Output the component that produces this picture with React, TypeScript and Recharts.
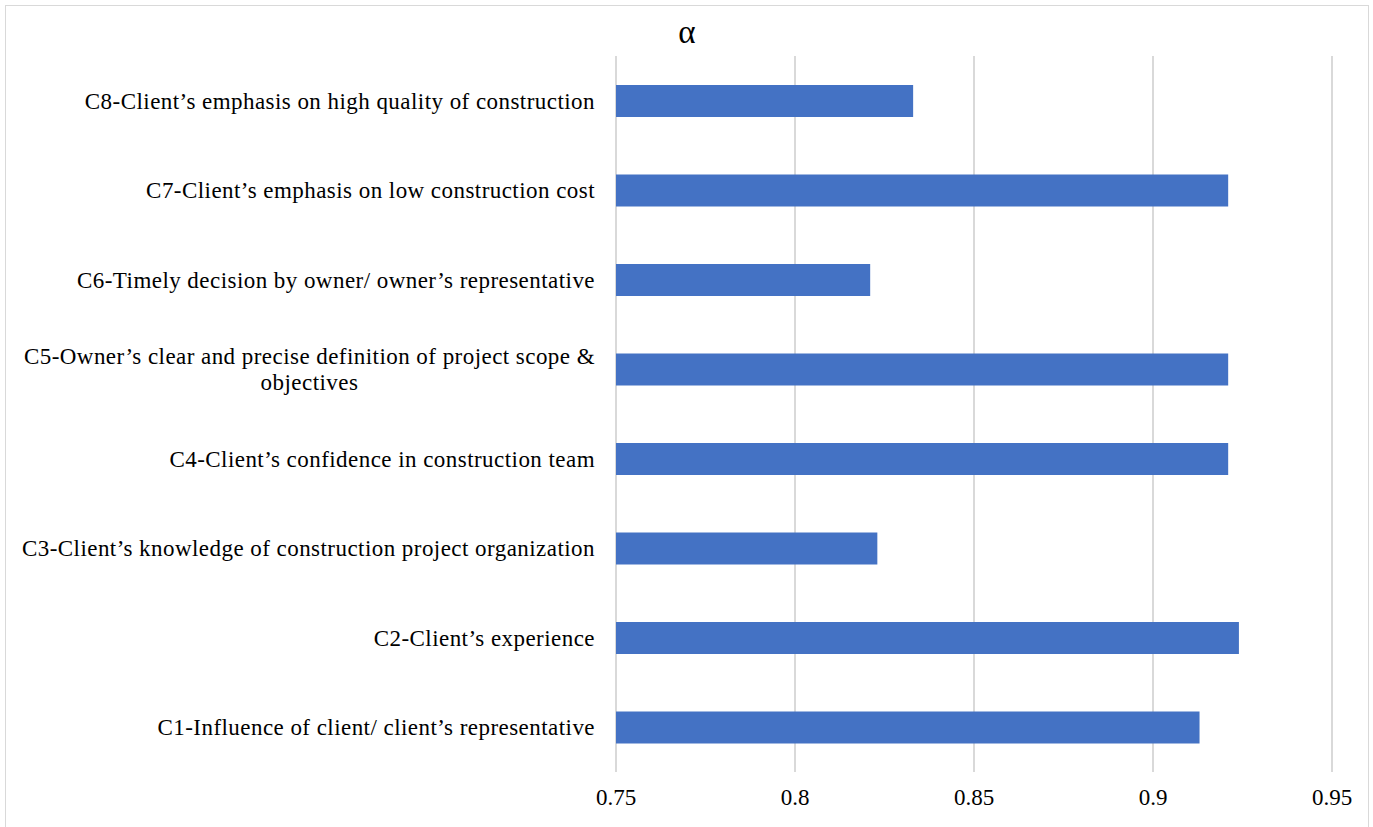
import React from "react";
import { BarChart, Bar, XAxis, YAxis, CartesianGrid } from "recharts";

// Factors listed bottom-to-top (C1 first), line break where the long label wraps
const categories = [
  "C1-Influence of client/ client’s representative",
  "C2-Client’s experience",
  "C3-Client’s knowledge of construction project organization",
  "C4-Client’s confidence in construction team",
  "C5-Owner’s clear and precise definition of project scope &\nobjectives",
  "C6-Timely decision by owner/ owner’s representative",
  "C7-Client’s emphasis on low construction cost",
  "C8-Client’s emphasis on high quality of construction",
];
const alphaValues = [0.913, 0.924, 0.823, 0.921, 0.921, 0.821, 0.921, 0.833];
const xTicks = [0.75, 0.8, 0.85, 0.9, 0.95];

const data = categories.map((name, i) => ({ name, alpha: alphaValues[i] }));

const SERIF = "Liberation Serif";
const LABEL_SIZE = 23;
const LABEL_SPACING = 0.45;
let ctx: CanvasRenderingContext2D | null = null;
function measure(text: string) {
  if (!ctx) ctx = document.createElement("canvas").getContext("2d");
  if (!ctx) return text.length * 10;
  ctx.font = `${LABEL_SIZE}px "${SERIF}"`;
  return ctx.measureText(text).width + text.length * LABEL_SPACING;
}

function CategoryTick(props: any) {
  const { x, y, payload } = props;
  const lines: string[] = String(payload.value).split("\n");
  const boxW = Math.max(...lines.map(measure));
  const cx = x - boxW / 2;
  const lineH = 26;
  const y0 = y - ((lines.length - 1) * lineH) / 2;
  return (
    <g>
      {lines.map((line, i) => (
        <text
          key={i}
          x={lines.length > 1 ? cx : x}
          y={y0 + i * lineH}
          dy="0.35em"
          textAnchor={lines.length > 1 ? "middle" : "end"}
          fontFamily={SERIF}
          fontSize={LABEL_SIZE}
          letterSpacing={LABEL_SPACING}
          fill="#000"
        >
          {line}
        </text>
      ))}
    </g>
  );
}

export default function App() {
  return (
    <div
      style={{
        position: "absolute",
        left: 0,
        top: 0,
        width: 1373,
        height: 827,
        overflow: "hidden",
        background: "#fff",
      }}
    >
      <div
        style={{
          position: "absolute",
          left: 5,
          top: 5,
          width: 1362,
          height: 840,
          border: "1.5px solid #d9d9d9",
        }}
      />
      <div
        style={{
          position: "absolute",
          left: 587,
          width: 200,
          top: 12,
          textAlign: "center",
          fontFamily: `"${SERIF}"`,
          fontSize: 33,
          lineHeight: "40px",
          color: "#000",
        }}
      >
        α
      </div>
      <div style={{ position: "absolute", left: 0, top: 0 }}>
        <BarChart
          width={1373}
          height={827}
          data={data}
          layout="vertical"
          barSize={32}
          margin={{ top: 56, right: 41, bottom: 25, left: 20 }}
        >
          <CartesianGrid horizontal={false} stroke="#d9d9d9" strokeWidth={2} />
          <XAxis
            type="number"
            domain={[0.75, 0.95]}
            ticks={xTicks}
            axisLine={false}
            tickLine={false}
            height={30}
            tickMargin={11}
            tick={{ fontFamily: SERIF, fontSize: 23, fill: "#000" }}
          />
          <YAxis
            type="category"
            dataKey="name"
            reversed
            width={596}
            axisLine={false}
            tickLine={false}
            tickMargin={15}
            interval={0}
            tick={<CategoryTick />}
          />
          <Bar dataKey="alpha" fill="#4472C4" isAnimationActive={false} />
        </BarChart>
      </div>
    </div>
  );
}
